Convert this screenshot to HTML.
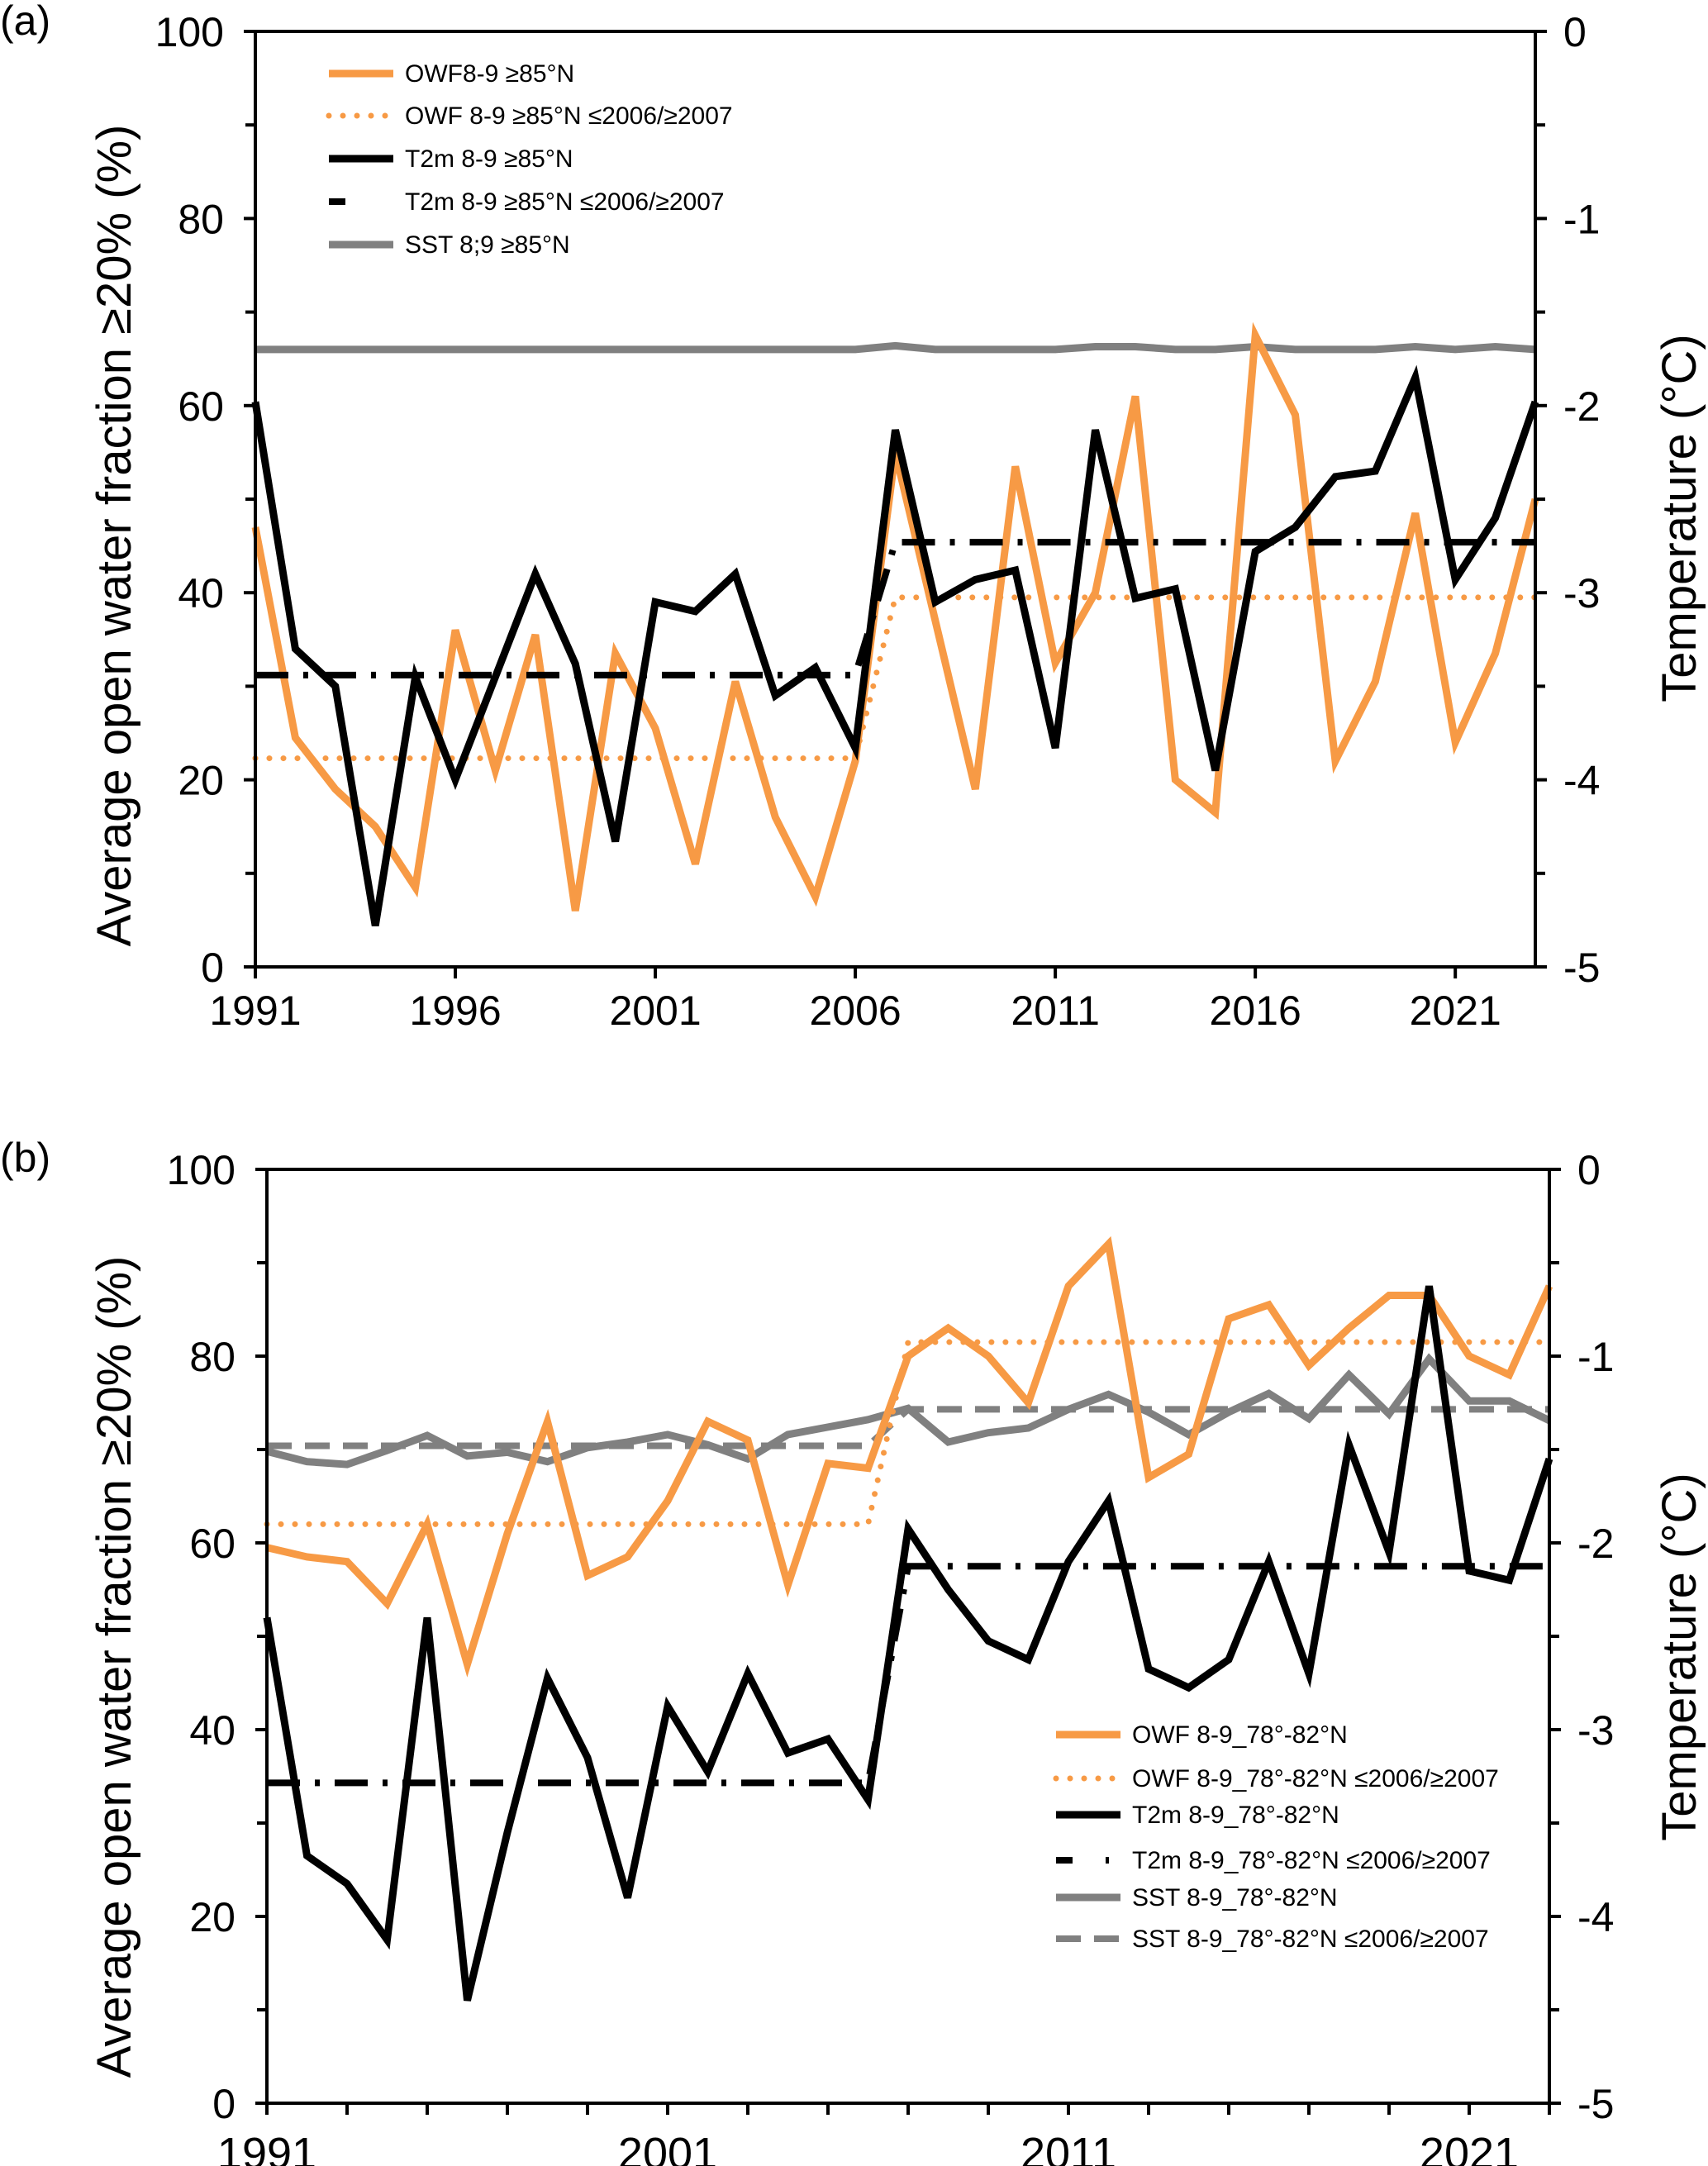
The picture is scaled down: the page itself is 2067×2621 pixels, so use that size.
<!DOCTYPE html>
<html><head><meta charset="utf-8">
<style>
html,body{margin:0;padding:0;background:#fff;}
svg{display:block;font-family:"Liberation Sans",sans-serif;}
</style></head>
<body>
<svg id="chart" width="2067" height="2621" viewBox="0 0 2067 2621" xmlns="http://www.w3.org/2000/svg"></svg>
<script>
// ---- data ----
const years = [1991,1992,1993,1994,1995,1996,1997,1998,1999,2000,2001,2002,2003,2004,2005,2006,2007,2008,2009,2010,2011,2012,2013,2014,2015,2016,2017,2018,2019,2020,2021,2022,2023];
// panel a
const owfA = [47,24.5,19,15,8.5,36,21,35.5,6,33.5,25.5,11,30.5,16,7.5,22,55,37,19,53.5,32.5,40,61,20,16.5,67.5,59,22,30.5,48.5,24,33.5,50];
const owfAMeans = [22.3,39.5];
const t2mA = [-1.98,-3.30,-3.50,-4.78,-3.45,-4.00,-3.45,-2.90,-3.38,-4.33,-3.05,-3.10,-2.90,-3.55,-3.40,-3.83,-2.13,-3.05,-2.93,-2.88,-3.83,-2.13,-3.03,-2.98,-3.95,-2.78,-2.65,-2.38,-2.35,-1.85,-2.93,-2.60,-1.98];
const t2mAMeans = [-3.44,-2.73];
const sstA = [-1.70,-1.70,-1.70,-1.70,-1.70,-1.70,-1.70,-1.70,-1.70,-1.70,-1.70,-1.70,-1.70,-1.70,-1.70,-1.70,-1.68,-1.70,-1.70,-1.70,-1.70,-1.685,-1.685,-1.70,-1.70,-1.685,-1.70,-1.70,-1.70,-1.685,-1.70,-1.685,-1.70];
// panel b
const owfB = [59.5,58.5,58,53.5,62,47,61,73,56.5,58.5,64.5,73,71,55.5,68.5,68,80,83,80,75,87.5,92,67,69.5,84,85.5,79,83,86.5,86.5,80,78,87.5];
const owfBMeans = [62,81.5];
const t2mB = [-2.40,-3.675,-3.825,-4.125,-2.40,-4.45,-3.55,-2.725,-3.15,-3.90,-2.875,-3.225,-2.70,-3.125,-3.05,-3.375,-1.925,-2.25,-2.525,-2.625,-2.10,-1.775,-2.675,-2.775,-2.625,-2.10,-2.70,-1.475,-2.05,-0.625,-2.15,-2.20,-1.55];
const t2mBMeans = [-3.285,-2.125];
const sstB = [-1.51,-1.565,-1.58,-1.505,-1.425,-1.535,-1.515,-1.565,-1.49,-1.46,-1.42,-1.475,-1.55,-1.42,-1.38,-1.34,-1.28,-1.46,-1.41,-1.385,-1.285,-1.205,-1.30,-1.42,-1.30,-1.20,-1.335,-1.10,-1.31,-1.015,-1.24,-1.24,-1.345];
const sstBMeans = [-1.48,-1.285];
const leftTicks = [0,20,40,60,80,100];
const rightTicks = [0,-1,-2,-3,-4,-5];
const xTicksA = [1991,1996,2001,2006,2011,2016,2021];
const xTicksB = [1991,2001,2011,2021];
const legendA = ["OWF8-9 ≥85°N","OWF 8-9 ≥85°N ≤2006/≥2007","T2m 8-9 ≥85°N","T2m 8-9 ≥85°N ≤2006/≥2007","SST 8;9 ≥85°N"];
const legendB = ["OWF 8-9_78°-82°N","OWF 8-9_78°-82°N ≤2006/≥2007","T2m 8-9_78°-82°N","T2m 8-9_78°-82°N ≤2006/≥2007","SST 8-9_78°-82°N","SST 8-9_78°-82°N ≤2006/≥2007"];

const NS="http://www.w3.org/2000/svg";
const svg=document.getElementById('chart');
const ORANGE="#F79A45", GRAY="#808080", BLACK="#000";
function mk(tag,attrs,parent){const e=document.createElementNS(NS,tag);for(const k in attrs)e.setAttribute(k,attrs[k]);(parent||svg).appendChild(e);return e;}

function panel(P){
  const g=mk('g',{});
  
  
  const xs=y=>P.L+(y-1991)*(P.R-P.L)/(2023-1991);
  const yl=v=>P.B-(v/100)*(P.B-P.T);
  const yr=t=>P.T+(-t/5)*(P.B-P.T);
  function poly(vals,scale,style,nm){
    const pts=vals.map((v,i)=>xs(years[i])+','+scale(v)).join(' ');
    const p=mk('polyline',Object.assign({points:pts,fill:'none','stroke-linejoin':'miter'},style),g);
    
    
  }
  function step(m,scale,style,nm){
    const pts=[[1991,m[0]],[2006,m[0]],[2007,m[1]],[2023,m[1]]].map(a=>xs(a[0])+','+scale(a[1])).join(' ');
    const p=mk('polyline',Object.assign({points:pts,fill:'none'},style),g);
    
    
  }
  P.draw(poly,step,yl,yr);
  const fr=mk('rect',{x:P.L,y:P.T,width:P.R-P.L,height:P.B-P.T,fill:'none',stroke:'#000','stroke-width':4},g);
  
  
  leftTicks.forEach(v=>{
    mk('line',{x1:P.L-14,x2:P.L,y1:yl(v),y2:yl(v),stroke:'#000','stroke-width':4},g);
    const t=mk('text',{x:P.L-38,y:yl(v)+18,'text-anchor':'end','font-size':50},g);t.textContent=v;
    
    
  });
  for(let v=10;v<100;v+=20) mk('line',{x1:P.L-12,x2:P.L,y1:yl(v),y2:yl(v),stroke:'#000','stroke-width':4},g);
  rightTicks.forEach(v=>{
    mk('line',{x1:P.R,x2:P.R+14,y1:yr(v),y2:yr(v),stroke:'#000','stroke-width':4},g);
    const t=mk('text',{x:P.R+34,y:yr(v)+18,'text-anchor':'start','font-size':50},g);t.textContent=v;
    
    
  });
  for(let v=-0.5;v>-5;v-=1) mk('line',{x1:P.R,x2:P.R+12,y1:yr(v),y2:yr(v),stroke:'#000','stroke-width':4},g);
  for(let y=1991;y<=2023;y+=P.minor) mk('line',{x1:xs(y),x2:xs(y),y1:P.B,y2:P.B+14,stroke:'#000','stroke-width':4},g);
  P.xt.forEach(y=>{
    const t=mk('text',{x:xs(y),y:P.xlabY,'text-anchor':'middle','font-size':P.xfs},g);t.textContent=y;
    
    
  });
  const lt=mk('text',{transform:`translate(${P.ltx},${P.lty}) rotate(-90)`,'text-anchor':'middle','font-size':58},g);
  lt.textContent='Average open water fraction ≥20%  (%)';
  
  
  const rt=mk('text',{transform:`translate(${P.rtx},${P.rty}) rotate(-90)`,'text-anchor':'middle','font-size':58},g);
  rt.textContent='Temperature  (°C)';
  
  
  const pl=mk('text',{x:0,y:P.labY,'font-size':50},g);pl.textContent=P.label;
  
  
  const lg=mk('g',{},g);
  
  
  P.legend.forEach((s,i)=>{
    const y=P.legY[i];
    mk('line',Object.assign({x1:P.legX,x2:P.legX+78,y1:y,y2:y},P.legStyles[i]),lg);
    const t=mk('text',{x:P.legX+92,y:y+10,'font-size':30},lg);t.textContent=s;
    
    
  });
}

const solidO={stroke:ORANGE,'stroke-width':9};
const dotO={stroke:ORANGE,'stroke-width':7,'stroke-dasharray':'0 17','stroke-linecap':'round'};
const solidK={stroke:BLACK,'stroke-width':9};
const dashdotK={stroke:BLACK,'stroke-width':8,'stroke-dasharray':'40 18 6 18'};
const solidG={stroke:GRAY,'stroke-width':9};
const dashG={stroke:GRAY,'stroke-width':8,'stroke-dasharray':'30 16'};

panel({name:'panel-a',label:'(a)',labY:42,L:309,R:1858,T:38,B:1170,minor:5,xt:xTicksA,xlabY:1240,xfs:50,
  ltx:158,lty:648,rtx:2052,rty:627,legX:398,legY:[89,140,192,244,296],
  legend:legendA,legStyles:[solidO,dotO,solidK,Object.assign({},dashdotK,{'stroke-dasharray':'20 58'}),solidG],
  draw:(poly,step,yl,yr)=>{
    poly(sstA,yr,solidG,'sst-line');
    step(owfAMeans,yl,dotO,'owf-mean-step');
    poly(owfA,yl,solidO,'owf-line');
    step(t2mAMeans,yr,dashdotK,'t2m-mean-step');
    poly(t2mA,yr,solidK,'t2m-line');
  }});
panel({name:'panel-b',label:'(b)',labY:1418,L:323,R:1875,T:1415,B:2545,minor:2,xt:xTicksB,xlabY:2624,xfs:54,
  ltx:158,lty:2017,rtx:2052,rty:2005,legX:1278,legY:[2099,2152,2196,2251,2296,2346],
  legend:legendB,legStyles:[solidO,dotO,solidK,Object.assign({},dashdotK,{'stroke-dasharray':'20 40 4 40'}),solidG,dashG],
  draw:(poly,step,yl,yr)=>{
    step(sstBMeans,yr,dashG,'sst-mean-step');
    poly(sstB,yr,solidG,'sst-line');
    step(owfBMeans,yl,dotO,'owf-mean-step');
    poly(owfB,yl,solidO,'owf-line');
    step(t2mBMeans,yr,dashdotK,'t2m-mean-step');
    poly(t2mB,yr,solidK,'t2m-line');
  }});
</script>
</body></html>
